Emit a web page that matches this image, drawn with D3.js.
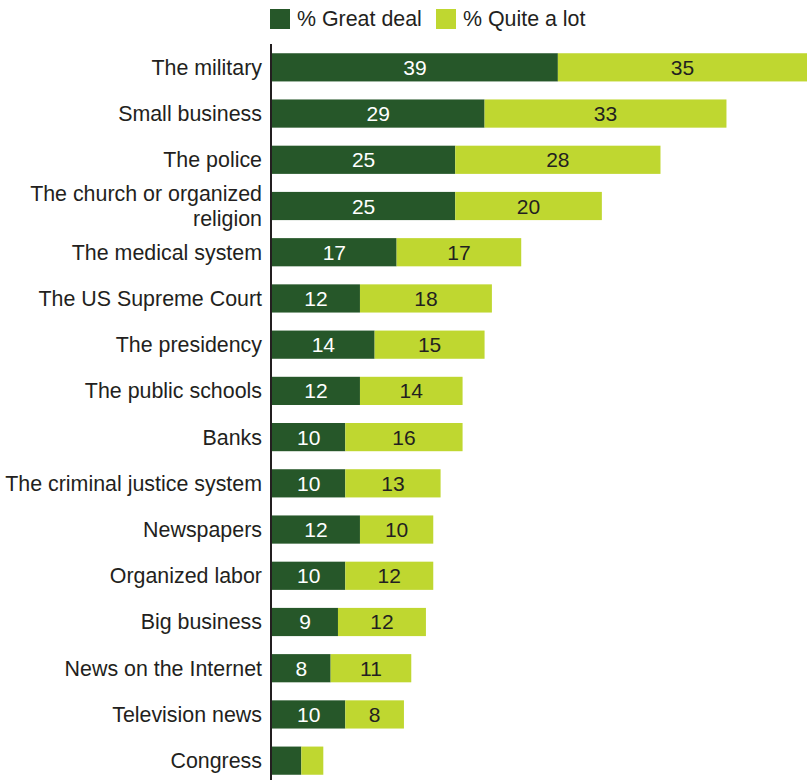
<!DOCTYPE html>
<html><head><meta charset="utf-8">
<script src="https://cdn.jsdelivr.net/npm/d3@7"></script>
<style>body{margin:0;background:#fff}svg{display:block}</style>
</head><body><svg id="c" width="807" height="780"></svg>
<script>
const categories = ["The military","Small business","The police","The church or organized religion","The medical system","The US Supreme Court","The presidency","The public schools","Banks","The criminal justice system","Newspapers","Organized labor","Big business","News on the Internet","Television news","Congress"];
const greatDeal = [39,29,25,25,17,12,14,12,10,10,12,10,9,8,10,4];
const quiteALot = [35,33,28,20,17,18,15,14,16,13,10,12,12,11,8,3];
const showValue = [true,true,true,true,true,true,true,true,true,true,true,true,true,true,true,false];
const seriesNames = ["% Great deal","% Quite a lot"];
const colors = ["#265729","#bfd730"];

const svg = d3.select("#c");
const font = "'Liberation Sans', Arial, Helvetica, sans-serif";
const x0 = 272;
const x = d3.scaleLinear().domain([0,74]).range([x0, x0 + 74*7.33]);
const y = d3.scaleBand().domain(categories).range([44, 784]).paddingInner(0.39).paddingOuter(0.2);

const g = svg.append("g");
categories.forEach((c,i) => {
  const gd = greatDeal[i], qa = quiteALot[i];
  g.append("rect").attr("x", x(0)).attr("y", y(c)).attr("width", x(gd)-x(0)).attr("height", y.bandwidth()).attr("fill", colors[0]);
  g.append("rect").attr("x", x(gd)).attr("y", y(c)).attr("width", x(gd+qa)-x(gd)).attr("height", y.bandwidth()).attr("fill", colors[1]);
  if (showValue[i]) {
    const cy = y(c) + y.bandwidth()/2 + 7.5;
    g.append("text").attr("x", (x(0)+x(gd))/2).attr("y", cy).attr("text-anchor","middle").attr("fill","#fff").style("font-family",font).style("font-size","21px").text(gd);
    g.append("text").attr("x", (x(gd)+Math.min(x(gd+qa),807))/2).attr("y", cy).attr("text-anchor","middle").attr("fill","#231f20").style("font-family",font).style("font-size","21px").text(qa);
  }
  const cy = y(c) + y.bandwidth()/2;
  const lines = c === "The church or organized religion" ? ["The church or organized","religion"] : [c];
  lines.forEach((ln,k) => {
    g.append("text").attr("x", 262).attr("y", cy + 7.5 + (k - (lines.length-1)/2)*25)
      .attr("text-anchor","end").attr("fill","#231f20").style("font-family",font).style("font-size","21.4px").text(ln);
  });
});

svg.append("line").attr("x1", 271).attr("x2", 271).attr("y1", 44).attr("y2", 780).attr("stroke","#231f20").attr("stroke-width",2);

const leg = svg.append("g");
const legX = [270, 436];
seriesNames.forEach((s,i) => {
  leg.append("rect").attr("x", legX[i]).attr("y", 9).attr("width", 20).attr("height", 20).attr("fill", colors[i]);
  leg.append("text").attr("x", legX[i]+27).attr("y", 26).attr("fill","#231f20").style("font-family",font).style("font-size","21.4px").text(s);
});
</script></body></html>
